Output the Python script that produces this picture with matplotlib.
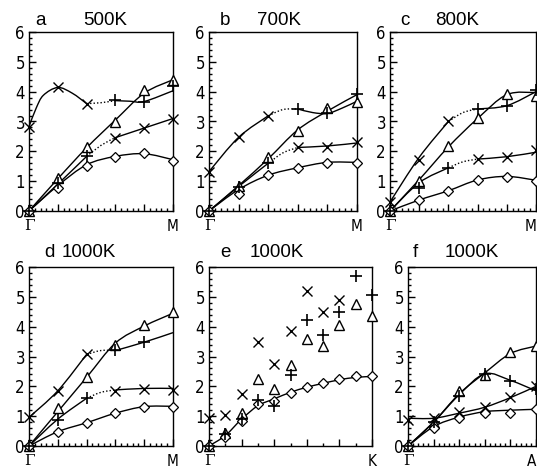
import numpy as np
import matplotlib
matplotlib.use("Agg")
import matplotlib.pyplot as plt
from matplotlib.path import Path
from matplotlib.patches import PathPatch
from matplotlib.ticker import MultipleLocator
from matplotlib import font_manager

nan = np.nan

# ---------------- data ----------------
panel_letters = ["a", "b", "c", "d", "e", "f"]
panel_temps = ["500K", "700K", "800K", "1000K", "1000K", "1000K"]
end_labels = ["M", "M", "M", "M", "K", "A"]

# marker values at q-points 0..5 (0..10 for panel e)
a_tri = [0, 1.10, 2.16, 2.97, 4.06, 4.40]
a_plus = [0, 0.93, 1.83, 3.73, 3.67, 4.20]
a_cross = [2.83, 4.14, 3.60, 2.46, 2.78, 3.10]
a_diam = [0, 0.78, 1.52, 1.80, 1.94, 1.69]

b_tri = [0, 0.85, 1.80, 2.69, 3.45, 3.65]
b_plus = [0, 0.80, 1.60, 3.42, 3.30, 3.93]
b_cross = [1.32, 2.47, 3.19, 2.13, 2.16, 2.30]
b_diam = [0, 0.56, 1.21, 1.43, 1.62, 1.60]

c_tri = [0, 0.99, 2.18, 3.11, 3.93, 3.85]
c_plus = [0, 0.78, 1.43, 3.42, 3.53, 4.06]
c_cross = [0.31, 1.71, 3.00, 1.74, 1.80, 2.05]
c_diam = [0, 0.37, 0.67, 1.04, 1.15, 1.00]

d_tri = [0, 1.27, 2.31, 3.39, 4.06, 4.49]
d_plus = [0, 0.87, 1.62, 3.21, 3.50, nan]
d_cross = [0.96, 1.85, 3.10, 1.83, 1.91, 1.88]
d_diam = [0, 0.46, 0.76, 1.10, 1.32, 1.30]

e_cross = [0.93, 1.04, 1.74, 3.48, 2.74, 3.86, 5.20, 4.48, 4.90, nan, nan]
e_plus = [0, 0.39, 0.90, 1.55, 1.34, 2.39, 4.23, 3.71, 4.49, 5.69, 5.05]
e_tri = [0, 0.43, 1.12, 2.25, 1.90, 2.72, 3.59, 3.34, 4.06, 4.77, 4.37]
e_diam = [0, 0.29, 0.85, 1.40, 1.52, 1.77, 1.97, 2.10, 2.24, 2.33, 2.33]

f_tri = [0, 0.76, 1.83, 2.39, 3.15, 3.34]
f_plus = [0, 0.82, 1.69, 2.41, 2.19, 1.91]
f_cross = [0.87, 0.95, 1.15, 1.30, 1.63, 2.00]
f_diam = [0, 0.62, 0.95, 1.12, 1.10, 1.23]

# dispersion curves: (x nodes, y nodes, style)
a_lines = [
    ([0, 0.25, 0.5, 1, 1.5, 2], [2.83, 3.45, 3.88, 4.14, 3.95, 3.60], "-"),
    ([2, 2.5, 3], [3.60, 3.63, 3.70], ":"),
    ([3, 3.5, 4, 5], [3.70, 3.68, 3.67, 4.03], "-"),
    ([0, 1, 2, 3, 4, 5], [0, 1.08, 2.12, 3.05, 3.95, 4.40], "-"),
    ([0, 1, 2], [0, 0.90, 1.83], "-"),
    ([2, 2.5, 3], [1.83, 2.20, 2.46], ":"),
    ([3, 4, 5], [2.46, 2.78, 3.10], "-"),
    ([0, 1, 2, 3, 4, 5], [0, 0.85, 1.55, 1.83, 1.92, 1.72], "-"),
]
b_lines = [
    ([0, 1, 2], [1.32, 2.47, 3.19], "-"),
    ([2, 2.5, 3], [3.19, 3.40, 3.42], ":"),
    ([3, 3.5, 4, 4.5, 5], [3.42, 3.30, 3.27, 3.45, 3.68], "-"),
    ([0, 1, 2, 3, 4, 5], [0, 0.85, 1.75, 2.72, 3.35, 3.90], "-"),
    ([0, 1, 2], [0, 0.82, 1.60], "-"),
    ([2, 2.5, 3], [1.60, 1.95, 2.13], ":"),
    ([3, 4, 5], [2.13, 2.18, 2.28], "-"),
    ([0, 1, 2, 3, 4, 5], [0, 0.72, 1.20, 1.45, 1.63, 1.63], "-"),
]
c_lines = [
    ([0, 1, 2], [0.30, 1.80, 3.00], "-"),
    ([2, 2.5, 3], [3.00, 3.30, 3.42], ":"),
    ([3, 4, 5], [3.42, 3.53, 4.00], "-"),
    ([0, 1, 2, 3, 4, 5], [0, 1.05, 2.15, 3.10, 3.90, 3.97], "-"),
    ([0, 1, 2], [0, 0.95, 1.45], "-"),
    ([2, 2.5, 3], [1.45, 1.65, 1.74], ":"),
    ([3, 4, 5], [1.74, 1.82, 1.97], "-"),
    ([0, 1, 2, 3, 4, 5], [0, 0.37, 0.68, 1.04, 1.16, 1.03], "-"),
]
d_lines = [
    ([0, 1, 2], [0.96, 1.85, 3.07], "-"),
    ([2, 2.5, 3], [3.07, 3.20, 3.20], ":"),
    ([3, 4, 5], [3.20, 3.48, 3.80], "-"),
    ([0, 1, 2, 3, 4, 5], [0, 1.15, 2.30, 3.45, 4.02, 4.45], "-"),
    ([0, 1, 2], [0, 0.90, 1.60], "-"),
    ([2, 2.5, 3], [1.60, 1.80, 1.88], ":"),
    ([3, 4, 5], [1.88, 1.93, 1.93], "-"),
    ([0, 1, 2, 3, 4, 5], [0, 0.48, 0.78, 1.10, 1.32, 1.33], "-"),
]
e_lines = [
    ([0, 1, 2, 3, 4, 5, 6, 7, 8, 9, 10],
     [0, 0.35, 0.90, 1.35, 1.58, 1.80, 1.97, 2.10, 2.22, 2.30, 2.33], "-"),
]
f_lines = [
    ([0, 1, 2, 3, 4, 5], [0, 0.80, 1.75, 2.45, 3.10, 3.35], "-"),
    ([0, 1, 2, 3, 4, 5], [0, 0.80, 1.72, 2.42, 2.20, 1.85], "-"),
    ([0, 1, 2, 3, 4, 5], [0.93, 0.93, 1.10, 1.30, 1.62, 2.00], "-"),
    ([0, 1, 2, 3, 4, 5], [0, 0.65, 0.97, 1.15, 1.20, 1.23], "-"),
]

panels = [
    (a_tri, a_plus, a_cross, a_diam, a_lines),
    (b_tri, b_plus, b_cross, b_diam, b_lines),
    (c_tri, c_plus, c_cross, c_diam, c_lines),
    (d_tri, d_plus, d_cross, d_diam, d_lines),
    (e_tri, e_plus, e_cross, e_diam, e_lines),
    (f_tri, f_plus, f_cross, f_diam, f_lines),
]

# ---------------- layout (pixels of the 537x469 figure) ----------------
W, H = 537, 469
boxes = [  # left, top, right, bottom
    (29, 32, 173, 211),
    (209, 32, 357, 211),
    (390, 32, 536, 211),
    (29, 267, 173, 446),
    (209, 267, 372, 446),
    (408, 267, 536, 446),
]
# title text positions (letter x, temperature x, baseline y) in pixels
title_pos = [
    (35, 83, 25),
    (220, 257, 25),
    (400, 435, 25),
    (44, 62, 257),
    (220, 250, 257),
    (413, 445, 257),
]

names = {f.name for f in font_manager.fontManager.ttflist}
if "Liberation Sans Narrow" in names:
    tick_font, tick_stretch = "Liberation Sans Narrow", "normal"
else:
    tick_font, tick_stretch = "DejaVu Sans", "condensed"
title_font = "Liberation Sans"


def smooth_path(xs, ys):
    pts = np.column_stack([xs, ys]).astype(float)
    n = len(pts)
    verts = [pts[0]]
    codes = [Path.MOVETO]
    if n == 2:
        verts.append(pts[1])
        codes.append(Path.LINETO)
        return Path(verts, codes)
    for i in range(n - 1):
        p0 = pts[i - 1] if i > 0 else pts[i]
        p1 = pts[i]
        p2 = pts[i + 1]
        p3 = pts[i + 2] if i + 2 < n else pts[i + 1]
        c1 = p1 + (p2 - p0) / 6.0
        c2 = p2 - (p3 - p1) / 6.0
        verts += [c1, c2, p2]
        codes += [Path.CURVE4] * 3
    return Path(verts, codes)


fig = plt.figure(figsize=(W / 100, H / 100), dpi=100)

for k, (tri, plus, cross, diam, lines) in enumerate(panels):
    l, t, r, b = boxes[k]
    ax = fig.add_axes([l / W, 1 - b / H, (r - l) / W, (b - t) / H])
    npts = len(tri)
    xs = np.arange(npts)
    xmax = npts - 1
    ax.set_xlim(0, xmax)
    ax.set_ylim(0, 6)

    for lx, ly, ls in lines:
        patch = PathPatch(smooth_path(lx, ly), fill=False, edgecolor="black",
                          lw=1.0, linestyle=ls if ls == "-" else (0, (1, 1.5)),
                          clip_on=False)
        ax.add_patch(patch)

    kw = dict(linestyle="none", color="black", clip_on=False, zorder=3)
    ax.plot(xs, tri, marker="^", markersize=7, markerfacecolor="white",
            markeredgewidth=1.0, **kw)
    ax.plot(xs, diam, marker="D", markersize=5.5, markerfacecolor="white",
            markeredgewidth=0.9, **kw)
    ax.plot(xs, cross, marker="x", markersize=7, markeredgewidth=1.0, **kw)
    ax.plot(xs, plus, marker="+", markersize=8, markeredgewidth=1.2, **kw)

    ax.yaxis.set_major_locator(MultipleLocator(1))
    ax.yaxis.set_minor_locator(MultipleLocator(0.2))
    if k == 4:
        ax.xaxis.set_major_locator(MultipleLocator(2))
        ax.xaxis.set_minor_locator(MultipleLocator(1))
    else:
        ax.xaxis.set_major_locator(MultipleLocator(1))
        ax.xaxis.set_minor_locator(MultipleLocator(0.2))
    ax.tick_params(which="both", direction="in", top=False, right=False,
                   labelbottom=False, width=1.0)
    ax.tick_params(which="major", length=5, labelsize=12, pad=3)
    ax.tick_params(which="minor", length=2.5)
    for lab in ax.get_yticklabels():
        lab.set_family(tick_font)
        lab.set_fontstretch(tick_stretch)
    for sp in ax.spines.values():
        sp.set_linewidth(1.0)

    tr = ax.get_xaxis_transform()
    ax.text(0, -0.045, "Γ", transform=tr, ha="center", va="top",
            fontsize=11, family="DejaVu Serif")
    if r >= 530:
        ax.text(xmax, -0.045, end_labels[k], transform=tr, ha="right",
                va="top", fontsize=11, family=tick_font, fontstretch=tick_stretch)
    else:
        ax.text(xmax, -0.045, end_labels[k], transform=tr, ha="center",
                va="top", fontsize=11, family=tick_font, fontstretch=tick_stretch)

    lx_, tx_, by_ = title_pos[k]
    fig.text(lx_ / W, 1 - by_ / H, panel_letters[k], ha="left", va="baseline",
             fontsize=13.5, family=title_font)
    fig.text(tx_ / W, 1 - by_ / H, panel_temps[k], ha="left", va="baseline",
             fontsize=13.5, family=title_font)

fig.savefig("out.png", dpi=100)
